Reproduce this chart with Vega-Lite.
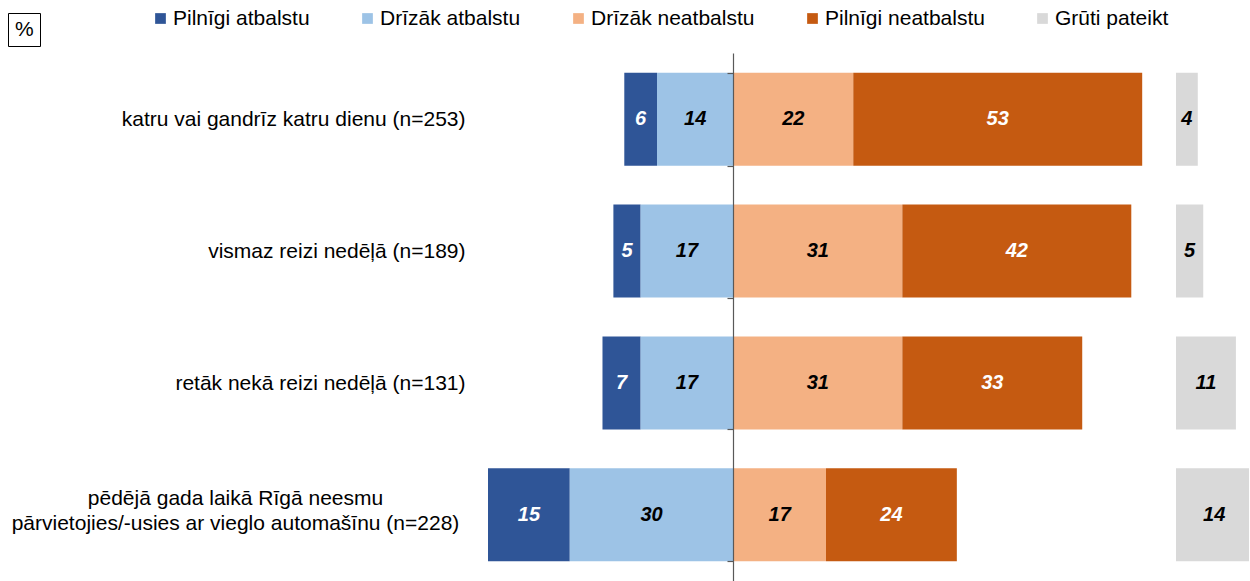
{
  "$schema": "https://vega.github.io/schema/vega-lite/v6.json",
  "padding": {"left": 7, "top": 8, "right": 0, "bottom": 0},
  "config": {"view": {"stroke": null}, "font": "Liberation Sans"},
  "datasets": {
    "d": [
      {"category": "katru vai gandrīz katru dienu (n=253)", "response": "Pilnīgi atbalstu", "value": 6},
      {"category": "katru vai gandrīz katru dienu (n=253)", "response": "Drīzāk atbalstu", "value": 14},
      {"category": "katru vai gandrīz katru dienu (n=253)", "response": "Drīzāk neatbalstu", "value": 22},
      {"category": "katru vai gandrīz katru dienu (n=253)", "response": "Pilnīgi neatbalstu", "value": 53},
      {"category": "katru vai gandrīz katru dienu (n=253)", "response": "Grūti pateikt", "value": 4},
      {"category": "vismaz reizi nedēļā (n=189)", "response": "Pilnīgi atbalstu", "value": 5},
      {"category": "vismaz reizi nedēļā (n=189)", "response": "Drīzāk atbalstu", "value": 17},
      {"category": "vismaz reizi nedēļā (n=189)", "response": "Drīzāk neatbalstu", "value": 31},
      {"category": "vismaz reizi nedēļā (n=189)", "response": "Pilnīgi neatbalstu", "value": 42},
      {"category": "vismaz reizi nedēļā (n=189)", "response": "Grūti pateikt", "value": 5},
      {"category": "retāk nekā reizi nedēļā (n=131)", "response": "Pilnīgi atbalstu", "value": 7},
      {"category": "retāk nekā reizi nedēļā (n=131)", "response": "Drīzāk atbalstu", "value": 17},
      {"category": "retāk nekā reizi nedēļā (n=131)", "response": "Drīzāk neatbalstu", "value": 31},
      {"category": "retāk nekā reizi nedēļā (n=131)", "response": "Pilnīgi neatbalstu", "value": 33},
      {"category": "retāk nekā reizi nedēļā (n=131)", "response": "Grūti pateikt", "value": 11},
      {"category": "pēdējā gada laikā Rīgā neesmu pārvietojies/-usies ar vieglo automašīnu (n=228)", "response": "Pilnīgi atbalstu", "value": 15},
      {"category": "pēdējā gada laikā Rīgā neesmu pārvietojies/-usies ar vieglo automašīnu (n=228)", "response": "Drīzāk atbalstu", "value": 30},
      {"category": "pēdējā gada laikā Rīgā neesmu pārvietojies/-usies ar vieglo automašīnu (n=228)", "response": "Drīzāk neatbalstu", "value": 17},
      {"category": "pēdējā gada laikā Rīgā neesmu pārvietojies/-usies ar vieglo automašīnu (n=228)", "response": "Pilnīgi neatbalstu", "value": 24},
      {"category": "pēdējā gada laikā Rīgā neesmu pārvietojies/-usies ar vieglo automašīnu (n=228)", "response": "Grūti pateikt", "value": 14}
    ]
  },
  "spacing": 12,
  "hconcat": [
    {
      "width": 676,
      "height": 528,
      "data": {"name": "d"},
      "transform": [
        {"filter": "datum.response != 'Grūti pateikt'"},
        {"calculate": "indexof(['Pilnīgi atbalstu','Drīzāk atbalstu'], datum.response) >= 0 ? -datum.value : datum.value", "as": "signed"},
        {"calculate": "indexof(['Drīzāk atbalstu','Pilnīgi atbalstu','Drīzāk neatbalstu','Pilnīgi neatbalstu'], datum.response)", "as": "ord"},
        {"stack": "signed", "groupby": ["category"], "sort": [{"field": "ord", "order": "ascending"}], "as": ["x0", "x1"]},
        {"calculate": "(datum.x0 + datum.x1) / 2", "as": "mid"}
      ],
      "layer": [
        {
          "mark": {"type": "bar"},
          "encoding": {
            "y": {
              "field": "category", "type": "nominal", "sort": null,
              "scale": {"paddingInner": 0.295, "paddingOuter": 0.15},
              "axis": {
                "title": null, "domain": false, "ticks": false, "tickSize": 0,
                "labelFont": "Liberation Sans", "labelFontSize": 21, "labelColor": "black",
                "labelLimit": 700, "labelLineHeight": 25,
                "labelAlign": {"condition": {"test": "indexof(datum.value, 'pēdējā') == 0", "value": "center"}, "value": "right"},
                "labelPadding": {"condition": {"test": "indexof(datum.value, 'pēdējā') == 0", "value": 253}, "value": 23},
                "labelOffset": {"condition": {"test": "indexof(datum.value, 'pēdējā') == 0", "value": -16}, "value": 1},
                "labelExpr": "indexof(datum.value, 'pēdējā') == 0 ? ['pēdējā gada laikā Rīgā neesmu', 'pārvietojies/-usies ar vieglo automašīnu (n=228)'] : datum.label"
              }
            },
            "x": {"field": "x0", "type": "quantitative", "scale": {"domain": [-45, 79], "nice": false, "zero": false}, "axis": null},
            "x2": {"field": "x1"},
            "color": {
              "field": "response", "type": "nominal",
              "scale": {
                "domain": ["Pilnīgi atbalstu", "Drīzāk atbalstu", "Drīzāk neatbalstu", "Pilnīgi neatbalstu", "Grūti pateikt"],
                "range": ["#2F5597", "#9DC3E6", "#F4B183", "#C55A11", "#D9D9D9"]
              },
              "legend": {
                "orient": "none", "legendX": -338, "legendY": -45, "direction": "horizontal",
                "gridAlign": "none",
                "title": null, "symbolType": "square", "symbolSize": 115, "symbolStrokeWidth": 0,
                "labelFont": "Liberation Sans", "labelFontSize": 21, "labelColor": "black",
                "labelOffset": 2, "columnPadding": 47, "labelLimit": 300
              }
            }
          }
        },
        {
          "mark": {"type": "text", "fontSize": 20, "fontWeight": "bold", "fontStyle": "italic", "font": "Liberation Sans"},
          "encoding": {
            "y": {
              "field": "category", "type": "nominal", "sort": null,
              "axis": {
                "orient": "left", "offset": -245, "labels": false, "title": null, "grid": false,
                "domain": true, "domainColor": "#595959", "domainWidth": 1.2,
                "ticks": true, "tickBand": "extent", "tickSize": 6, "tickColor": "#595959", "tickWidth": 1.2,
                "zindex": 2
              }
            },
            "x": {"field": "mid", "type": "quantitative"},
            "text": {"field": "value"},
            "color": {
              "condition": {"test": "datum.response === 'Pilnīgi atbalstu' || datum.response === 'Pilnīgi neatbalstu'", "value": "white"},
              "value": "black"
            }
          }
        }
      ],
      "resolve": {"axis": {"y": "independent"}}
    },
    {
      "width": 73,
      "height": 528,
      "data": {"name": "d"},
      "transform": [
        {"filter": "datum.response == 'Grūti pateikt'"},
        {"calculate": "datum.value / 2", "as": "half"}
      ],
      "layer": [
        {
          "mark": {"type": "bar", "clip": true},
          "encoding": {
            "y": {"field": "category", "type": "nominal", "sort": null, "scale": {"paddingInner": 0.295, "paddingOuter": 0.15}, "axis": null},
            "x": {"field": "value", "type": "quantitative", "scale": {"domain": [0, 13.4], "nice": false}, "axis": null},
            "color": {"field": "response", "type": "nominal"},
            "opacity": {
              "datum": "%", "type": "nominal", "scale": {"range": [1]},
              "legend": {
                "orient": "none", "legendX": -480, "legendY": -40, "title": null,
                "symbolSize": 0, "symbolOpacity": 0, "symbolStrokeWidth": 0, "labelOffset": -20,
                "labelFont": "Liberation Sans", "labelFontSize": 21, "labelColor": "black",
                "strokeColor": "black", "fillColor": "white", "padding": 6
              }
            }
          }
        },
        {
          "mark": {"type": "text", "fontSize": 20, "fontWeight": "bold", "fontStyle": "italic", "font": "Liberation Sans", "color": "black"},
          "encoding": {
            "y": {"field": "category", "type": "nominal", "sort": null, "axis": null},
            "x": {"field": "half", "type": "quantitative"},
            "text": {"field": "value"}
          }
        }
      ]
    }
  ]
}
